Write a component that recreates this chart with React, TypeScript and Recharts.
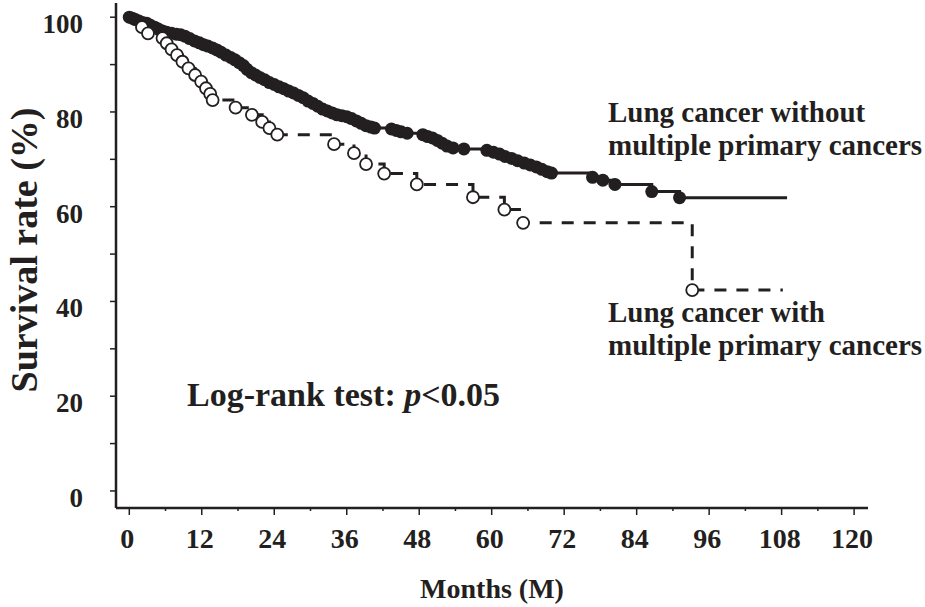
import React from 'react';
import { ComposedChart, Line, XAxis, YAxis } from 'recharts';

// Lung cancer without multiple primary cancers (filled circles)
const withoutMonths = [
  0, 0.5, 1, 1.6, 2.2, 2.9, 3.5, 4.2, 4.8, 5.5, 6.2, 7.0, 7.8, 8.5, 9.2, 10.0, 10.8, 11.6, 12.3, 13.0,
  13.8, 14.5, 15.2, 16.0, 16.8, 17.5, 18.2, 18.9, 19.5, 20.2, 20.9, 21.6, 22.4, 23.2, 24.0, 24.8, 25.6,
  26.4, 27.2, 28.0, 28.8, 29.6, 30.4, 31.2, 32.0, 32.8, 33.6, 34.4, 35.2, 36.0, 36.8, 37.6, 38.4, 39.2,
  40.0, 40.6, 43.4, 44.2, 45.0, 46.0, 48.6, 49.4, 50.2, 51.0, 51.8, 52.6, 53.6, 55.4, 59.2, 60.3, 61.3,
  62.2, 63.3, 64.3, 65.4, 66.4, 67.4, 68.3, 69.2, 69.9, 76.7, 78.4, 80.4, 86.5, 91.1, 108.9,
];
const withoutSurvival = [
  100, 99.8, 99.5, 99.2, 98.9, 98.7, 98.3, 97.9, 97.5, 97.1, 96.8, 96.6, 96.4, 96.3, 96.0, 95.5, 95.0, 94.6, 94.2, 93.9,
  93.5, 93.1, 92.6, 92.0, 91.5, 91.0, 90.4, 89.8, 89.0, 88.3, 87.8, 87.3, 86.8, 86.2, 85.8, 85.3, 84.9,
  84.4, 84.0, 83.5, 83.0, 82.3, 81.8, 81.2, 80.6, 80.2, 79.8, 79.4, 79.2, 79.0, 78.6, 78.1, 77.6, 77.1,
  76.8, 76.6, 76.4, 76.1, 75.8, 75.5, 75.2, 74.8, 74.5, 74.0, 73.4, 72.8, 72.4, 72.2, 71.9, 71.5, 71.1,
  70.6, 70.2, 69.7, 69.2, 68.8, 68.4, 67.9, 67.4, 67.1, 66.2, 65.6, 64.7, 63.2, 61.9, 61.9,
];

// Lung cancer with multiple primary cancers (open circles)
const withMonths = [
  0, 2.1, 3.1, 5.5, 6.2, 7.0, 7.9, 8.8, 9.8, 10.9, 11.9, 12.7, 13.4, 13.8, 17.6, 20.3, 22.0, 23.2,
  24.5, 33.9, 37.2, 39.2, 42.2, 47.6, 56.9, 62.1, 65.2, 93.2, 108.2,
];
const withSurvival = [
  100, 97.9, 96.6, 95.6, 94.5, 93.2, 92.0, 90.6, 89.2, 87.8, 86.4, 85.0, 83.8, 82.5, 80.9, 79.4, 77.9, 76.6,
  75.2, 73.2, 71.3, 69.0, 67.0, 64.7, 62.0, 59.4, 56.6, 42.4, 42.4,
];

const xTicks = [0, 6, 12, 18, 24, 30, 36, 42, 48, 54, 60, 66, 72, 78, 84, 90, 96, 102, 108, 114, 120];
const yTicks = [0, 10, 20, 30, 40, 50, 60, 70, 80, 90, 100];

const INK = '#231f20';
const FONT = '"Liberation Serif", "Times New Roman", serif';

const withoutData = withoutMonths.map((m, i) => ({
  m,
  v: withoutSurvival[i],
  mark: i < withoutMonths.length - 1,
}));
const withData = withMonths.map((m, i) => ({
  m,
  v: withSurvival[i],
  mark: i > 0 && i < withMonths.length - 1,
}));

const XTick = (props: any) => {
  const { x, y, payload } = props;
  const major = payload.value % 12 === 0;
  return (
    <g>
      <line x1={x} y1={y} x2={x} y2={y + (major ? 7 : 3)} stroke={INK} strokeWidth={1.5} />
      {major && (
        <text x={x - 2} y={y + 40} textAnchor="middle" fontFamily={FONT} fontWeight="bold" fontSize={28} fill={INK}>
          {payload.value}
        </text>
      )}
    </g>
  );
};

const YTick = (props: any) => {
  const { x, y, payload } = props;
  const major = payload.value % 20 === 0;
  return (
    <g>
      <line x1={x - 6} y1={y} x2={x} y2={y} stroke={INK} strokeWidth={1.5} />
      {major && (
        <text x={x - 33} y={y + 16} textAnchor="end" fontFamily={FONT} fontWeight="bold" fontSize={27} fill={INK}>
          {payload.value}
        </text>
      )}
    </g>
  );
};

const filledDot = (props: any) => {
  const { cx, cy, payload, index } = props;
  if (!payload.mark) return <g key={`f-${index}`} />;
  return <circle key={`f-${index}`} cx={cx} cy={cy} r={6.5} fill={INK} stroke="none" />;
};

const openDot = (props: any) => {
  const { cx, cy, payload, index } = props;
  if (!payload.mark) return <g key={`o-${index}`} />;
  return <circle key={`o-${index}`} cx={cx} cy={cy} r={6} fill="#fff" stroke={INK} strokeWidth={1.8} />;
};

const textStyle = { fontFamily: FONT, fontWeight: 'bold' as const, fill: INK };

export default function App() {
  return (
    <div style={{ position: 'absolute', left: 0, top: 0, background: '#fff' }}>
      <ComposedChart width={925} height={607} margin={{ top: 3, right: 57, bottom: 0, left: 0 }}>
        <XAxis
          type="number"
          dataKey="m"
          domain={[-2.2, 122.3]}
          ticks={xTicks}
          tick={<XTick />}
          tickSize={0}
          tickMargin={0}
          tickLine={false}
          height={99}
          axisLine={{ stroke: INK, strokeWidth: 2.5 }}
          allowDataOverflow
        />
        <YAxis
          type="number"
          dataKey="v"
          domain={[-3.6, 103]}
          ticks={yTicks}
          tick={<YTick />}
          tickSize={0}
          tickMargin={0}
          tickLine={false}
          width={116}
          axisLine={{ stroke: INK, strokeWidth: 2.5 }}
          allowDataOverflow
        />
        <Line
          data={withoutData}
          dataKey="v"
          type="stepAfter"
          stroke={INK}
          strokeWidth={3}
          dot={filledDot}
          activeDot={false}
          isAnimationActive={false}
        />
        <Line
          data={withData}
          dataKey="v"
          type="stepAfter"
          stroke={INK}
          strokeWidth={3}
          strokeDasharray="12 10"
          dot={openDot}
          activeDot={false}
          isAnimationActive={false}
        />
        <text x={608} y={122} fontSize={29} {...textStyle}>Lung cancer without</text>
        <text x={608} y={155} fontSize={29} {...textStyle}>multiple primary cancers</text>
        <text x={608} y={322} fontSize={29} {...textStyle}>Lung cancer with</text>
        <text x={608} y={355} fontSize={29} {...textStyle}>multiple primary cancers</text>
        <text x={187} y={406} fontSize={34} {...textStyle}>
          Log-rank test: <tspan fontStyle="italic">p</tspan>{'<0.05'}
        </text>
        <text x={492} y={598} fontSize={28} textAnchor="middle" {...textStyle}>Months (M)</text>
        <text
          x={37}
          y={250}
          fontSize={38}
          textAnchor="middle"
          transform="rotate(-90, 37, 250)"
          {...textStyle}
        >
          Survival rate (%)
        </text>
      </ComposedChart>
    </div>
  );
}
